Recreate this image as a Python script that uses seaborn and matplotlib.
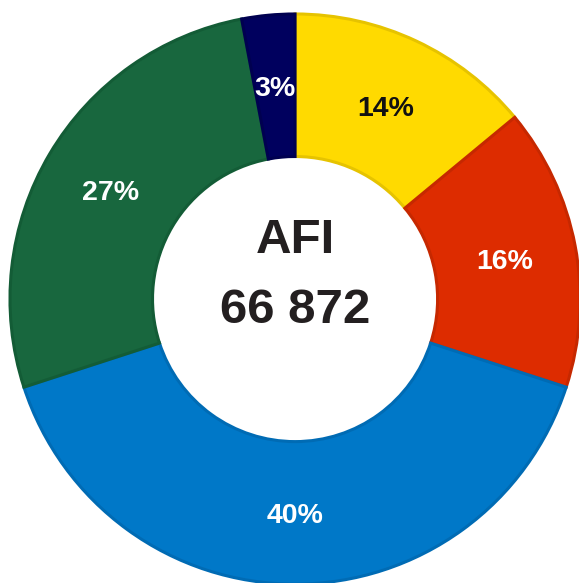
import numpy as np
import pandas as pd
import matplotlib
matplotlib.use('Agg')
import matplotlib.pyplot as plt
import seaborn as sns

#Chart data, clockwise from the top
segments = ['Yellow', 'Red', 'Blue', 'Green', 'Navy']
shares = [14, 16, 40, 27, 3]
fill_colors = ['#FFDA00', '#DD2C00', '#0078C8', '#18673E', '#00005E']
edge_colors = ['#E6C300', '#C62800', '#006BB4', '#135C36', '#000050']
label_colors = ['#111111', 'white', 'white', 'white', 'white']
center_title = 'AFI'
center_total = '66 872'

sns.set_theme(style='white')
plt.rcParams['font.family'] = ['Liberation Sans', 'DejaVu Sans']

df = pd.DataFrame({'segment': segments, 'share': shares})

fig = plt.figure(figsize=(5.79, 5.83), dpi=100)
ax = fig.add_axes([0, 0, 1, 1])

wedges, texts, autotexts = ax.pie(df['share'],
                                  colors=fill_colors,
                                  startangle=90,
                                  counterclock=False,
                                  autopct='%d%%',
                                  pctdistance=0.75,
                                  wedgeprops=dict(width=0.5, linewidth=2.2),
                                  textprops=dict(fontsize=20.5, fontweight='bold')
                                 )

#Darker outline of the same hue on every slice
for w, ec in zip(wedges, edge_colors):
    w.set_edgecolor(ec)

for t, c in zip(autotexts, label_colors):
    t.set_color(c)
    t.set_va('center_baseline')

ax.text(0, 0.222, center_title, ha='center', va='center_baseline',
        fontsize=35.5, fontweight='bold', color='#231F20')
ax.text(0, -0.022, center_total, ha='center', va='center_baseline',
        fontsize=35.5, fontweight='bold', color='#231F20')

#Place the ring like in the reference (center ~ (295, 299) px, radius ~285 px)
ax.set_aspect('auto')
ax.set_xlim(-1.035, 0.996)
ax.set_ylim(-0.996, 1.049)
ax.axis('off')

fig.savefig('out.png', dpi=100, facecolor='white')
